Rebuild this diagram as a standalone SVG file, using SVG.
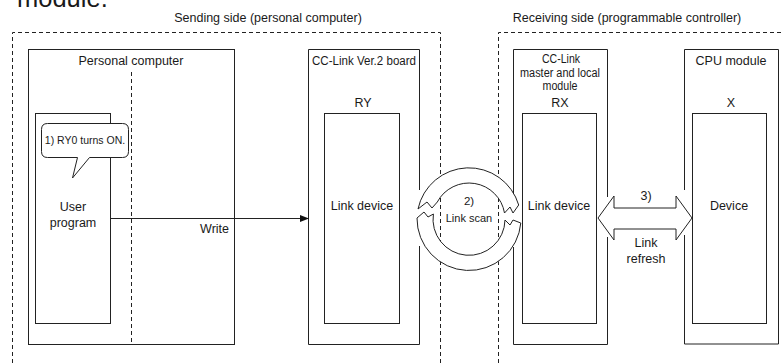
<svg xmlns="http://www.w3.org/2000/svg" width="781" height="363" viewBox="0 0 781 363">
<style>
text{font-family:"Liberation Sans",Arial,sans-serif;font-size:12.5px;fill:#1a1a1a;text-anchor:middle}
.box{fill:none;stroke:#222;stroke-width:1}
.wbox{fill:#fff;stroke:#222;stroke-width:1}
.dash{fill:none;stroke:#222;stroke-width:1;stroke-dasharray:4 3}
.ln{fill:none;stroke:#222;stroke-width:1}
</style>
<defs>
<marker id="ah" markerWidth="9" markerHeight="7" refX="8" refY="3.5" orient="auto" markerUnits="userSpaceOnUse">
<path d="M0,0 L9,3.5 L0,7 Z" fill="#111"/>
</marker>
</defs>
<rect width="781" height="363" fill="#fff"/>
<text x="17" y="7" style="font-size:25.5px;text-anchor:start">module.</text>
<g id="sending-side">
<path class="dash" d="M12.5,363 V32.5 H440.5 V363"/>
<text x="268" y="22">Sending side (personal computer)</text>
</g>
<g id="receiving-side">
<path class="dash" d="M498.5,363 V32.5 H781"/>
<text x="627" y="22">Receiving side (programmable controller)</text>
</g>
<g id="personal-computer">
<rect class="box" x="28.5" y="49.5" width="206" height="295"/>
<path class="dash" d="M131.5,72 V344"/>
<text x="131" y="65">Personal computer</text>
</g>
<g id="user-program">
<rect class="box" x="35.5" y="113.5" width="75" height="210"/>
<text x="73" y="211">User</text>
<text x="73" y="227">program</text>
</g>
<g id="callout">
<path class="wbox" d="M47.5,123.5 H122.5 Q128.5,123.5 128.5,129.5 V151.5 Q128.5,157.5 122.5,157.5 H89.5 L72.5,178 L77.5,157.5 H47.5 Q41.5,157.5 41.5,151.5 V129.5 Q41.5,123.5 47.5,123.5 Z"/>
<text x="85" y="144" style="font-size:10.5px">1) RY0 turns ON.</text>
</g>
<g id="cc-link-board">
<path class="ln" d="M419.5,190 V49.5 H308.5 V344.5 H419.5 V246"/>
<text x="364" y="65" textLength="104" lengthAdjust="spacingAndGlyphs">CC-Link Ver.2 board</text>
<text x="363" y="107">RY</text>
</g>
<g id="board-link-device">
<rect class="box" x="324.5" y="113.5" width="75" height="210"/>
<text x="362" y="210">Link device</text>
</g>
<g id="master-local-module">
<path class="ln" d="M513.5,200 V49.5 H607.5 V197 M607.5,237 V344.5 H513.5 V247"/>
<text x="561" y="63" style="font-size:12px" textLength="38" lengthAdjust="spacingAndGlyphs">CC-Link</text>
<text x="560" y="77" style="font-size:12px" textLength="80" lengthAdjust="spacingAndGlyphs">master and local</text>
<text x="560" y="90" style="font-size:12px" textLength="35" lengthAdjust="spacingAndGlyphs">module</text>
<text x="560" y="107">RX</text>
</g>
<g id="master-link-device">
<rect class="box" x="522.5" y="113.5" width="74" height="210"/>
<text x="559" y="210">Link device</text>
</g>
<g id="cpu-module">
<path class="ln" d="M684.5,190 V49.5 H778.5 V344 H684.5 V235"/>
<text x="731" y="65">CPU module</text>
<text x="731" y="107">X</text>
</g>
<g id="device">
<rect class="box" x="692.5" y="113.5" width="74" height="210"/>
<text x="729" y="210">Device</text>
</g>
<g id="connectors">
<line class="ln" x1="110.5" y1="218.5" x2="308" y2="218.5" marker-end="url(#ah)"/>
<text x="229" y="233" style="text-anchor:end">Write</text>
<g id="link-scan">
<path class="wbox" d="M418,209 A52,52 0 0 1 518.7,205 L513,213 L510,207 L504.5,213 A36,36 0 0 0 437.3,202 L432,208 L427,202 Z"/>
<path class="wbox" d="M520.8,223 A52,52 0 0 1 417,218 L424,212 L428,217 L433.4,214 A36,36 0 1 0 505,220 L510,225 L513,220 Z"/>
<text x="469" y="205" style="font-size:11.5px">2)</text>
<text x="469" y="222" style="font-size:11px">Link scan</text>
</g>
<g id="link-refresh">
<path class="wbox" d="M598,218 L614,196 L614,208 L676,208 L676,196 L692,218 L676,240 L676,229 L614,229 L614,240 Z"/>
<text x="646" y="200">3)</text>
<text x="646" y="247">Link</text>
<text x="646" y="263">refresh</text>
</g>
</g>
</svg>
